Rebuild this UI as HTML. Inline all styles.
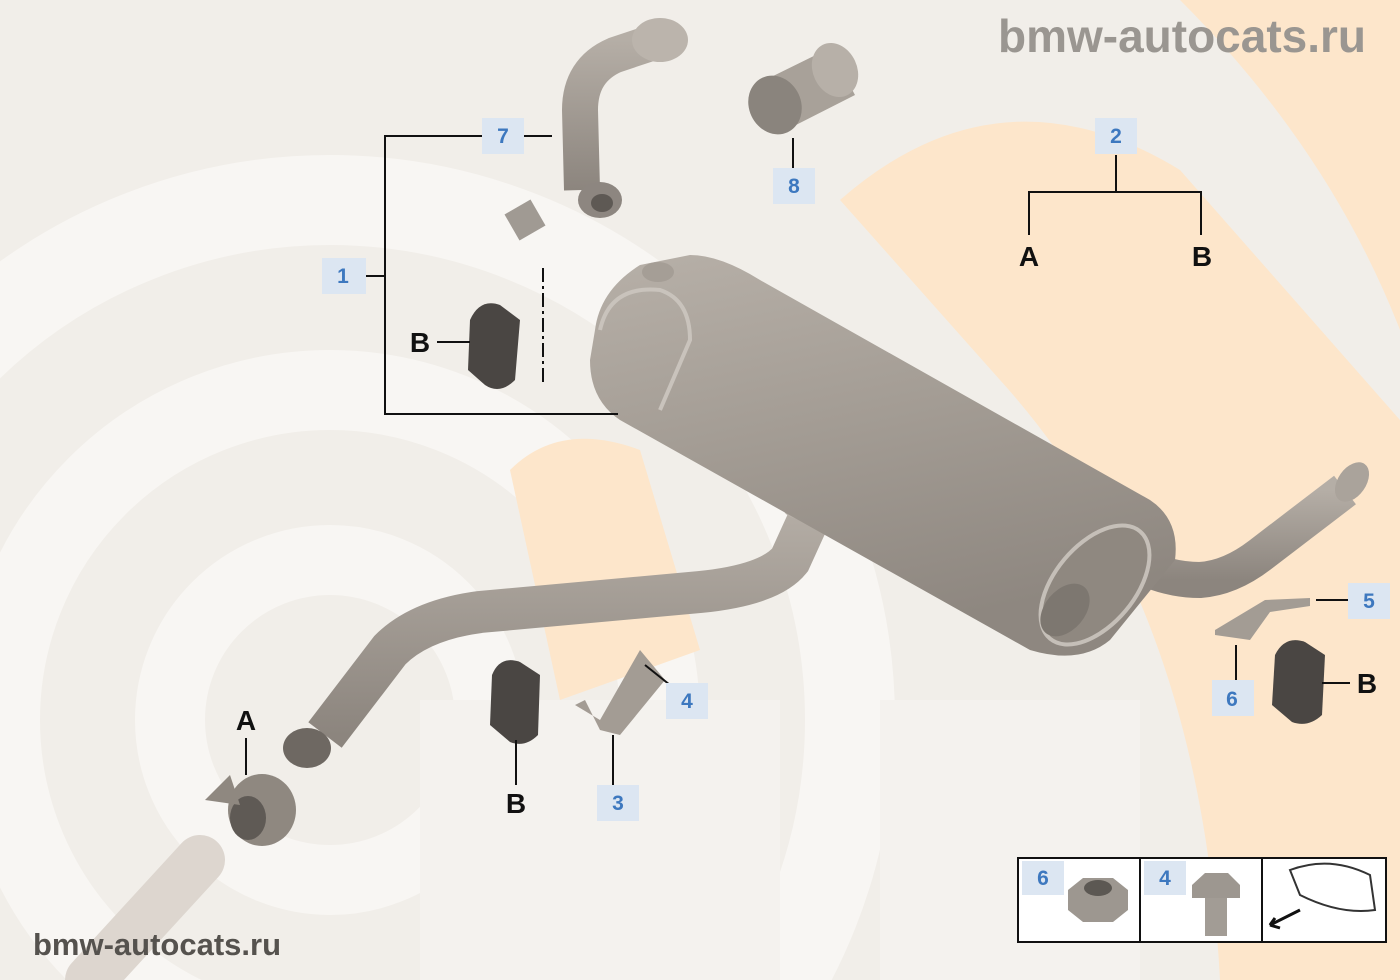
<!DOCTYPE html>
<html><head><meta charset="utf-8"><style>
html,body{margin:0;padding:0;background:#f1eee9;overflow:hidden;width:1400px;height:980px}
svg{display:block}
.lb{font-family:"Liberation Sans",sans-serif;font-weight:bold;font-size:21px;fill:#3d78bf;text-anchor:middle}
.L{font-family:"Liberation Sans",sans-serif;font-weight:bold;font-size:28px;fill:#111;text-anchor:middle}
</style></head><body>
<svg width="1400" height="980" viewBox="0 0 1400 980" xmlns="http://www.w3.org/2000/svg">
<defs>
<linearGradient id="mf" x1="0" y1="0" x2="0.3" y2="1">
<stop offset="0" stop-color="#b7b0a8"/><stop offset="0.5" stop-color="#a39c94"/><stop offset="1" stop-color="#8e8780"/></linearGradient>
<linearGradient id="pp" x1="0" y1="0" x2="0" y2="1">
<stop offset="0" stop-color="#b5aea6"/><stop offset="1" stop-color="#8c857e"/></linearGradient>
</defs>
<rect width="1400" height="980" fill="#f1eee9"/>
<g fill="none">
<circle cx="330" cy="720" r="520" stroke="#f8f6f3" stroke-width="90"/>
<circle cx="330" cy="720" r="330" stroke="#f8f6f3" stroke-width="80"/>
<circle cx="330" cy="720" r="160" stroke="#f8f6f3" stroke-width="70"/>
</g>
<path d="M840,200 Q1000,60 1180,170 L1400,420 L1400,980 L1220,980 Q1200,600 1000,380 Z" fill="#fde6cb"/>
<path d="M1180,0 L1400,0 L1400,330 Q1330,150 1180,0Z" fill="#fde6cb"/>
<path d="M510,470 Q560,420 640,450 L700,650 L560,700 Z" fill="#fde6cb"/>
<rect x="420" y="700" width="360" height="280" fill="#f4f2ee"/>
<rect x="880" y="700" width="260" height="280" fill="#f4f2ee"/>

<path d="M90,980 L200,860" stroke="#ddd6cf" stroke-width="50" fill="none" stroke-linecap="round"/>
<path d="M815,505 L790,560 Q770,585 700,592 L480,612 Q420,620 390,650 L325,735" stroke="url(#pp)" stroke-width="42" fill="none"/>
<ellipse cx="307" cy="748" rx="24" ry="20" fill="#6e6862"/>
<ellipse cx="808" cy="510" rx="24" ry="10" fill="#b9b2aa"/>
<ellipse cx="262" cy="810" rx="34" ry="36" fill="#8f8880"/>
<ellipse cx="248" cy="818" rx="18" ry="22" fill="#5f5a55"/>
<path d="M205,800 L230,775 L240,805 Z" fill="#8f8880"/>
<path d="M1120,555 Q1160,580 1200,580 Q1230,578 1260,555 L1345,490" stroke="url(#pp)" stroke-width="36" fill="none"/>
<ellipse cx="1352" cy="482" rx="14" ry="22" fill="#aaa39b" transform="rotate(35 1352 482)"/>
<path d="M640,265 L690,255 Q720,255 760,280 L1150,500 Q1180,520 1175,560 L1110,640 Q1080,665 1030,650 L620,420 Q590,400 590,360 L595,330 Q600,290 640,265Z" fill="url(#mf)"/>
<path d="M600,330 Q610,285 660,290 Q690,300 690,340 L660,410" fill="none" stroke="#c9c3bc" stroke-width="4"/>
<ellipse cx="1095" cy="585" rx="70" ry="40" transform="rotate(-50 1095 585)" fill="#8f8880" stroke="#c5bfb8" stroke-width="4"/>
<ellipse cx="1065" cy="610" rx="30" ry="20" transform="rotate(-50 1065 610)" fill="#7d7770"/>
<ellipse cx="658" cy="272" rx="16" ry="10" fill="#a59e96"/>
<path d="M660,40 L615,55 Q580,70 580,110 L582,190" stroke="url(#pp)" stroke-width="36" fill="none"/>
<ellipse cx="660" cy="40" rx="28" ry="22" fill="#bbb4ac"/>
<ellipse cx="600" cy="200" rx="22" ry="18" fill="#8d8680"/>
<ellipse cx="602" cy="203" rx="11" ry="9" fill="#5e5954"/>
<rect x="510" y="205" width="30" height="30" fill="#a09a93" transform="rotate(-30 525 220)"/>
<path d="M765,80 L830,48 L855,95 L790,128Z" fill="#a8a199"/>
<ellipse cx="835" cy="70" rx="22" ry="28" fill="#b7b0a8" transform="rotate(-25 835 70)"/>
<ellipse cx="775" cy="105" rx="26" ry="30" fill="#8a847d" transform="rotate(-25 775 105)"/>
<path d="M470,320 Q480,298 500,305 L520,320 L515,380 Q500,395 485,385 L468,370Z" fill="#4a4643"/>
<path d="M492,675 Q500,655 520,662 L540,675 L538,735 Q525,748 510,742 L490,725Z" fill="#4a4643"/>
<path d="M1275,655 Q1285,635 1305,642 L1325,655 L1322,715 Q1308,728 1292,722 L1272,705Z" fill="#4a4643"/>
<path d="M640,650 L665,680 L620,735 L600,730 L585,700 L575,705 L600,720 Z" fill="#a39c94"/>
<path d="M1215,630 L1265,600 L1310,598 L1310,606 L1270,612 L1250,640 L1215,635Z" fill="#a39c94"/>

<text x="1182" y="52" font-family="Liberation Sans,sans-serif" font-weight="bold" font-size="46" fill="#9a9691" text-anchor="middle">bmw-autocats.ru</text>
<text x="157" y="955" font-family="Liberation Sans,sans-serif" font-weight="bold" font-size="31" fill="#55524e" text-anchor="middle">bmw-autocats.ru</text>

<g stroke="#111" stroke-width="2" fill="none">
<polyline points="482,136 385,136 385,414 618,414"/>
<line x1="366" y1="276" x2="385" y2="276"/>
<line x1="524" y1="136" x2="552" y2="136"/>
<line x1="793" y1="138" x2="793" y2="168"/>
<polyline points="1029,235 1029,192 1201,192 1201,235"/>
<line x1="1116" y1="155" x2="1116" y2="192"/>
<line x1="437" y1="342" x2="470" y2="342"/>
<line x1="246" y1="738" x2="246" y2="775"/>
<line x1="516" y1="740" x2="516" y2="785"/>
<line x1="613" y1="735" x2="613" y2="785"/>
<line x1="645" y1="665" x2="670" y2="685"/>
<line x1="1316" y1="600" x2="1350" y2="600"/>
<line x1="1236" y1="645" x2="1236" y2="680"/>
<line x1="1322" y1="683" x2="1350" y2="683"/>
<line x1="543" y1="268" x2="543" y2="385" stroke-dasharray="14,4,3,4"/>
</g>
<g>
<rect x="482" y="118" width="42" height="36" fill="#dce6f2"/><text class="lb" x="503" y="143">7</text>
<rect x="773" y="168" width="42" height="36" fill="#dce6f2"/><text class="lb" x="794" y="193">8</text>
<rect x="1095" y="118" width="42" height="36" fill="#dce6f2"/><text class="lb" x="1116" y="143">2</text>
<rect x="322" y="258" width="44" height="36" fill="#dce6f2"/><text class="lb" x="343" y="283">1</text>
<rect x="666" y="683" width="42" height="36" fill="#dce6f2"/><text class="lb" x="687" y="708">4</text>
<rect x="597" y="785" width="42" height="36" fill="#dce6f2"/><text class="lb" x="618" y="810">3</text>
<rect x="1348" y="583" width="42" height="36" fill="#dce6f2"/><text class="lb" x="1369" y="608">5</text>
<rect x="1212" y="680" width="42" height="36" fill="#dce6f2"/><text class="lb" x="1232" y="706">6</text>
</g>
<text class="L" x="1029" y="266">A</text>
<text class="L" x="1202" y="266">B</text>
<text class="L" x="420" y="352">B</text>
<text class="L" x="246" y="730">A</text>
<text class="L" x="516" y="813">B</text>
<text class="L" x="1367" y="693">B</text>
<rect x="1018" y="858" width="368" height="84" fill="#fff" stroke="#111" stroke-width="2"/>
<line x1="1140" y1="858" x2="1140" y2="942" stroke="#111" stroke-width="2"/>
<line x1="1262" y1="858" x2="1262" y2="942" stroke="#111" stroke-width="2"/>
<rect x="1022" y="861" width="42" height="34" fill="#dce6f2"/><text class="lb" x="1043" y="885">6</text>
<rect x="1144" y="861" width="42" height="34" fill="#dce6f2"/><text class="lb" x="1165" y="885">4</text>
<polygon points="1068,890 1083,878 1113,878 1128,890 1128,910 1113,922 1083,922 1068,910" fill="#9d9790"/>
<ellipse cx="1098" cy="888" rx="14" ry="8" fill="#5c5853"/>
<polygon points="1192,885 1205,873 1228,873 1240,885 1240,898 1192,898" fill="#9d9790"/>
<rect x="1205" y="898" width="22" height="38" fill="#a29c95"/>
<path d="M1290,870 Q1330,855 1370,875 L1375,910 Q1340,915 1300,895Z" fill="none" stroke="#333" stroke-width="2"/>
<path d="M1300,910 L1270,925 L1275,918 M1270,925 L1280,928" stroke="#111" stroke-width="3" fill="none"/>
</svg>
</body></html>
